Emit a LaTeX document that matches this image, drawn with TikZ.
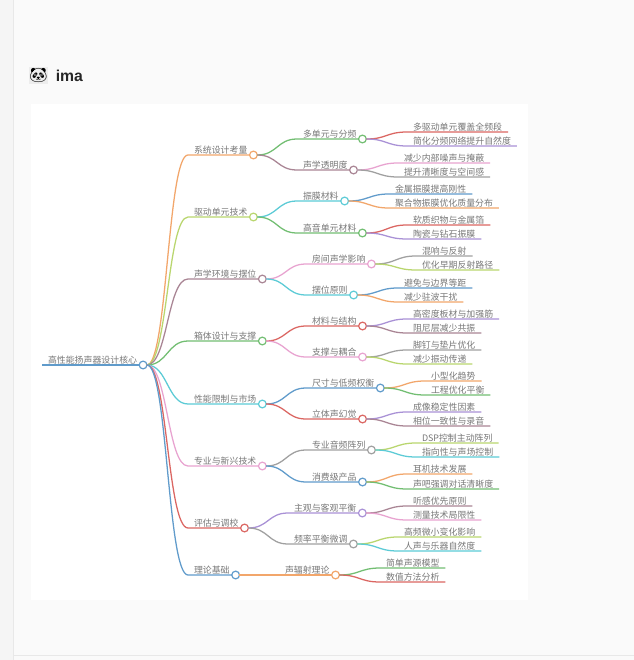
\documentclass[tikz,border=0pt]{standalone}
\usepackage{fontspec}
\setmainfont{Noto Sans CJK SC}
\newfontfamily\emojifont{Noto Emoji}
\newfontfamily\titrefont{Liberation Sans}
\usetikzlibrary{calc}
\definecolor{orangeL}{HTML}{F2A66B}
\definecolor{jauneL}{HTML}{B9D66E}
\definecolor{brunL}{HTML}{A98594}
\definecolor{vertL}{HTML}{72BE72}
\definecolor{cyanL}{HTML}{5CCBD6}
\definecolor{roseL}{HTML}{E8A3D0}
\definecolor{rougeL}{HTML}{DB6662}
\definecolor{bleuL}{HTML}{609BCB}
\definecolor{violetL}{HTML}{A991D6}
\definecolor{grisL}{HTML}{A0A0A0}
\definecolor{texteL}{HTML}{787878}
\tikzset{
  etiq/.style={anchor=south west,font=\fontsize{6.68pt}{8pt}\selectfont,text=texteL,inner xsep=4.5pt,inner ysep=0.5pt,outer sep=0pt,text height=5.6pt,text depth=0.9pt},
  rond/.style={circle,fill=white,line width=0.9pt,minimum size=5.8pt,inner sep=0pt,outer sep=0pt},
  lien/.style={line width=0.95pt}
}
\begin{document}
\begin{tikzpicture}[x=0.75pt,y=-0.75pt]
\newcommand{\branche}[6]{%nom, parent, couleur, x, y, texte
\node[etiq] (#1) at (#4,#5) {#6};
\coordinate (#1m) at ($(#2.east)!.5!(#1.south west)$);
\draw[lien,color=#3] (#2.east) .. controls (#1m |- #2.east) and (#1m |- #1.south west) .. (#1.south west) -- (#1.south east);
\node[rond,draw=#3] (#1r) at (#1.south east) {};
}
\newcommand{\feuille}[6]{%nom, parent, couleur, x, y, texte
\node[etiq] (#1) at (#4,#5) {#6};
\coordinate (#1m) at ($(#2.east)!.5!(#1.south west)$);
\draw[lien,color=#3] (#2.east) .. controls (#1m |- #2.east) and (#1m |- #1.south west) .. (#1.south west) -- (#1.south east);
}
\useasboundingbox (0,0) rectangle (634,660);
\fill[color=black!2] (0,0) rectangle (634,660);%fond
\fill[color=black!4] (0,0) rectangle (13,660);%marge
\fill[color=black!9] (12.5,0) rectangle (14,660);
\fill[color=black!9] (14,655) rectangle (634,656);
\fill[white] (31,104) rectangle (528,600);%feuille blanche
\node[fill=black!7,inner sep=0pt,minimum size=12.5pt,font=\emojifont\fontsize{11pt}{12pt}\selectfont] (panda) at (38.5,75.5) {^^^^^^01f43c};
\node[anchor=west,inner sep=0pt,font=\titrefont\bfseries\fontsize{11.8pt}{12pt}\selectfont,text=black!85] (titre) at (55.5,75.5) {ima};
%racine
\node[etiq] (coeur) at (42,365) {高性能扬声器设计核心};
\draw[lien,color=bleuL,line width=1.2pt] (coeur.south west) -- (coeur.south east);
\node[rond,draw=bleuL] (coeurr) at (coeur.south east) {};
%systeme
\branche{sys}{coeurr}{orangeL}{188}{155}{系统设计考量}
\branche{sysa}{sysr}{vertL}{297}{139}{多单元与分频}
\feuille{sysaa}{sysar}{rougeL}{407}{132}{多驱动单元覆盖全频段}
\feuille{sysab}{sysar}{violetL}{407}{146}{简化分频网络提升自然度}
\branche{sysb}{sysr}{brunL}{297}{170}{声学透明度}
\feuille{sysba}{sysbr}{roseL}{398}{163}{减少内部噪声与掩蔽}
\feuille{sysbb}{sysbr}{grisL}{398}{177}{提升清晰度与空间感}
%moteur
\branche{mot}{coeurr}{jauneL}{188}{217}{驱动单元技术}
\branche{mota}{motr}{cyanL}{297}{201}{振膜材料}
\feuille{motaa}{motar}{bleuL}{389}{194}{金属振膜提高刚性}
\feuille{motab}{motar}{orangeL}{389}{208}{聚合物振膜优化质量分布}
\branche{motb}{motr}{vertL}{297}{233}{高音单元材料}
\feuille{motba}{motbr}{rougeL}{407}{225}{软质织物与金属箔}
\feuille{motbb}{motbr}{violetL}{407}{239}{陶瓷与钻石振膜}
%acoustique
\branche{aco}{coeurr}{brunL}{188}{279}{声学环境与摆位}
\branche{acoa}{acor}{roseL}{306}{264}{房间声学影响}
\feuille{acoaa}{acoar}{grisL}{416}{256}{混响与反射}
\feuille{acoab}{acoar}{jauneL}{416}{270}{优化早期反射路径}
\branche{acob}{acor}{cyanL}{306}{295}{摆位原则}
\feuille{acoba}{acobr}{bleuL}{398}{288}{避免与边界等距}
\feuille{acobb}{acobr}{orangeL}{398}{302}{减少驻波干扰}
%boite
\branche{boi}{coeurr}{vertL}{188}{341}{箱体设计与支撑}
\branche{boia}{boir}{rougeL}{306}{326}{材料与结构}
\feuille{boiaa}{boiar}{violetL}{407}{319}{高密度板材与加强筋}
\feuille{boiab}{boiar}{brunL}{407}{333}{阻尼层减少共振}
\branche{boib}{boir}{roseL}{306}{357}{支撑与耦合}
\feuille{boiba}{boibr}{grisL}{407}{350}{脚钉与垫片优化}
\feuille{boibb}{boibr}{jauneL}{407}{364}{减少振动传递}
%limites
\branche{lim}{coeurr}{cyanL}{188}{404}{性能限制与市场}
\branche{lima}{limr}{bleuL}{306}{388}{尺寸与低频权衡}
\feuille{limaa}{limar}{orangeL}{425}{381}{小型化趋势}
\feuille{limab}{limar}{vertL}{425}{395}{工程优化平衡}
\branche{limb}{limr}{rougeL}{306}{419}{立体声幻觉}
\feuille{limba}{limbr}{violetL}{407}{412}{成像稳定性因素}
\feuille{limbb}{limbr}{brunL}{407}{426}{相位一致性与录音}
%nouveautes
\branche{pro}{coeurr}{roseL}{188}{466}{专业与新兴技术}
\branche{proa}{pror}{grisL}{306}{450}{专业音频阵列}
\feuille{proaa}{proar}{jauneL}{416}{443}{DSP控制主动阵列}
\feuille{proab}{proar}{cyanL}{416}{457}{指向性与声场控制}
\branche{prob}{pror}{bleuL}{306}{482}{消费级产品}
\feuille{proba}{probr}{orangeL}{407}{474}{耳机技术发展}
\feuille{probb}{probr}{vertL}{407}{489}{声吧强调对话清晰度}
%evaluation
\branche{eva}{coeurr}{rougeL}{188}{528}{评估与调校}
\branche{evaa}{evar}{violetL}{288}{513}{主观与客观平衡}
\feuille{evaaa}{evaar}{brunL}{407}{506}{听感优先原则}
\feuille{evaab}{evaar}{roseL}{407}{520}{测量技术局限性}
\branche{evab}{evar}{grisL}{288}{544}{频率平衡微调}
\feuille{evaba}{evabr}{jauneL}{398}{537}{高频微小变化影响}
\feuille{evabb}{evabr}{cyanL}{398}{551}{人声与乐器自然度}
%theorie
\branche{the}{coeurr}{bleuL}{188}{575}{理论基础}
\branche{thea}{ther}{orangeL}{279}{575}{声辐射理论}
\feuille{theaa}{thear}{vertL}{380}{568}{简单声源模型}
\feuille{theab}{thear}{rougeL}{380}{582}{数值方法分析}
\end{tikzpicture}
\end{document}
